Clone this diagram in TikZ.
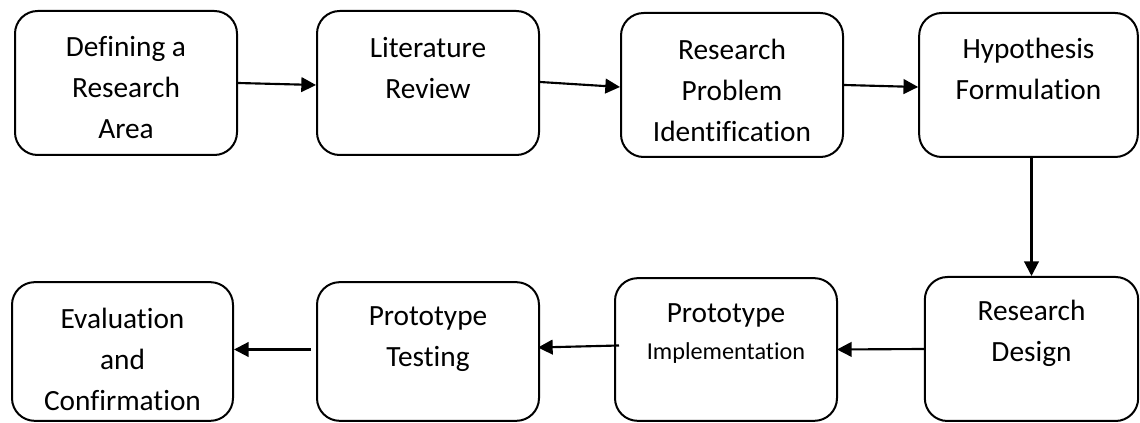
\documentclass[tikz,border=0pt]{standalone}
\usepackage{fontspec}
\setmainfont{Carlito}[Ligatures={NoCommon}]
\usetikzlibrary{arrows.meta}
\begin{document}
\begin{tikzpicture}[x=0.75pt,y=-0.75pt,
  stepbox/.style={draw,line width=1.5pt,rounded corners=17pt,inner sep=0pt,
    minimum width=166.5pt,minimum height=108pt},
  steptext/.style={align=center,inner sep=0pt,font=\fontsize{22}{30.75}\selectfont},
  smalltext/.style={align=center,inner sep=0pt,font=\fontsize{18.2}{21}\selectfont},
  conn/.style={line width=1.6pt,-{Triangle[length=11pt,width=11pt]}}]
\useasboundingbox (0,0) rectangle (1140,423);
% upper row
\node[stepbox] (b1) at (126,83) {};
\node[stepbox] (b2) at (428,83) {};
\node[stepbox] (b3) at (732,85) {};
\node[stepbox,minimum width=164pt] (b4) at (1028.5,85) {};
% lower row
\node[stepbox,minimum width=160pt] (b5) at (1031.5,349) {};
\node[stepbox,minimum height=107pt] (b6) at (726,349.5) {};
\node[stepbox,minimum height=104pt] (b7) at (428,351.5) {};
\node[stepbox,minimum height=104pt,minimum width=165.75pt] (b8) at (122.5,351.5) {};
% labels
\node[steptext] (t1) at (126,88) {Defining a\\Research\\Area};
\node[steptext] (t2) at (428,68) {Literature\\Review};
\node[steptext] (t3) at (732,90) {Research\\Problem\\Identification};
\node[steptext] (t4) at (1028.5,69) {Hypothesis\\Formulation};
\node[steptext] (t5) at (1031.5,333) {Research\\Design};
\node[steptext] (t6a) at (726,315) {Prototype};
\node[smalltext] (t6b) at (726,353) {Implementation};
\node[steptext] (t7) at (428,339) {Prototype\\Testing};
\node[steptext] (t8) at (122.5,359) {Evaluation\\and\\Confirmation};
% connectors
\draw[conn] (b1.east) -- ([yshift=-1.5pt]b2.west);
\draw[conn] ([yshift=0.75pt]b2.east) -- ([yshift=-1.5pt]b3.west);
\draw[conn] (b3.east) -- ([yshift=-1.5pt]b4.west);
\draw[conn] (b4.south -| b5.north) -- (b5.north);
\draw[conn] (b5.west) -- ([xshift=-0.75pt]b6.east);
\draw[conn] ([xshift=3.75pt,yshift=3pt]b6.west) -- ([xshift=-1.5pt,yshift=3pt]b7.east);
\draw[conn] ([xshift=-3.75pt,yshift=1.5pt]b7.west) -- ([yshift=1.5pt]b8.east);
\end{tikzpicture}
\end{document}
